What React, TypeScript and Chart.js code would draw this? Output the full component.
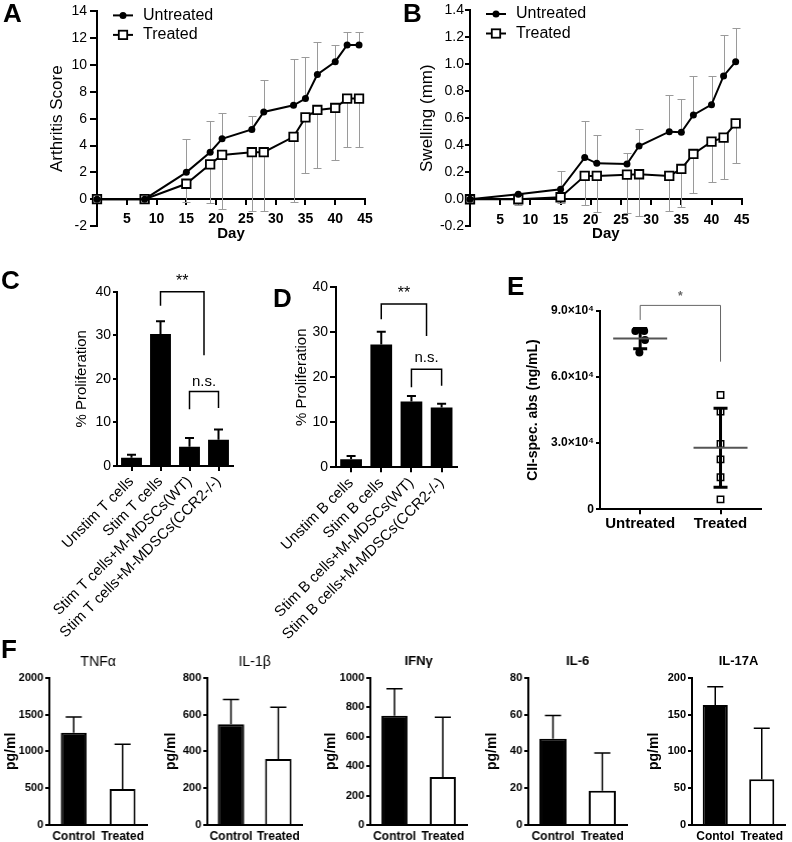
import React, { useEffect, useRef } from 'react';
import { Chart, registerables } from 'chart.js';

Chart.register(...registerables);

const FONT = '"Liberation Sans", Arial, Helvetica, sans-serif';
Chart.defaults.font.family = FONT;
Chart.defaults.color = '#000';

// ---------- DATA ----------
// Panels A & B (day of measurement)
const days = [0, 8, 15, 19, 21, 26, 28, 33, 35, 37, 40, 42, 44];
const scoreUntreated = [0, 0, 2.0, 3.5, 4.5, 5.2, 6.5, 7.0, 7.5, 9.3, 10.25, 11.5, 11.5];
const scoreUntreatedSD = [0, 0, 2.45, 2.35, 1.9, 1.0, 2.4, 3.45, 3.1, 2.4, 1.25, 1.0, 1.0];
const scoreTreated = [0, 0, 1.15, 2.6, 3.3, 3.5, 3.5, 4.65, 6.1, 6.65, 6.8, 7.5, 7.5];
const scoreTreatedSD = [0, 0, 1.35, 2.85, 4.0, 4.4, 4.4, 4.85, 4.15, 4.3, 3.85, 3.6, 3.6];

const swellUntreated = [0, 0.037, 0.074, 0.308, 0.266, 0.261, 0.394, 0.5, 0.495, 0.624, 0.7, 0.912, 1.018];
const swellUntreatedSD = [0, 0.01, 0.138, 0.27, 0.21, 0.08, 0.126, 0.27, 0.25, 0.29, 0.21, 0.3, 0.246];
const swellTreated = [0, 0, 0.015, 0.173, 0.173, 0.182, 0.185, 0.173, 0.224, 0.335, 0.426, 0.456, 0.562];
const swellTreatedSD = [0, 0.04, 0.045, 0.215, 0.265, 0.28, 0.31, 0.257, 0.28, 0.286, 0.295, 0.306, 0.296];

const seriesLabels = ['Untreated', 'Treated'];

// Panel C
const tCellGroups = ['Unstim T cells', 'Stim T cells', 'Stim T cells+M-MDSCs(WT)', 'Stim T cells+M-MDSCs(CCR2-/-)'];
const tCellProlif = [1.9, 30.3, 4.4, 6.0];
const tCellErr = [0.7, 2.9, 2.0, 2.4];

// Panel D
const bCellGroups = ['Unstim B cells', 'Stim B cells', 'Stim B cells+M-MDSCs(WT)', 'Stim B cells+M-MDSCs(CCR2-/-)'];
const bCellProlif = [1.8, 27.3, 14.6, 13.3];
const bCellErr = [0.7, 2.8, 1.25, 0.8];

// Panel E
const eGroups = ['Untreated', 'Treated'];
const eUntreated = [80800, 80800, 76700, 71100];
const eUntreatedJitter = [-0.06, 0.05, 0.06, -0.01];
const eTreated = [51800, 44300, 29600, 22600, 14500, 4500];

// Panel F
const fGroups = ['Control', 'Treated'];
const fGroupsIL17 = ['Contol', 'Treated'];
const tnfMean = [1253, 489];
const tnfSD = [213, 606];
const il1bMean = [547, 358];
const il1bSD = [135, 281];
const ifngMean = [742, 326];
const ifngSD = [183, 405];
const il6Mean = [46.9, 18.6];
const il6SD = [12.6, 20.5];
const il17aMean = [162.9, 62];
const il17aSD = [24.9, 69.2];

// ---------- HELPERS ----------
const f = (size: number, weight: string = 'normal') => ({ family: FONT, size, weight });
const cf = (size: number, weight: string = 'normal') => `${weight} ${size}px ${FONT}`;
const axisGrid = (tickLength: number, drawTicks = true) => ({
  display: true,
  drawOnChartArea: false,
  drawTicks,
  tickLength,
  color: '#000',
  lineWidth: 2,
  offset: false,
});
const axisBorder = { display: true, color: '#000', width: 2 };
const mean = (a: number[]) => a.reduce((s, v) => s + v, 0) / a.length;
const sdev = (a: number[]) => {
  const m = mean(a);
  return Math.sqrt(a.reduce((s, v) => s + (v - m) * (v - m), 0) / (a.length - 1));
};
const clean = (v: number) => (Math.abs(v) < 1e-9 ? 0 : v);

// ---------- PLUGINS ----------
const lineErrorPlugin = (upSD: number[], downSD: number[]) => ({
  id: 'lineErr',
  beforeDatasetsDraw(chart: any) {
    const { ctx } = chart;
    const xs = chart.scales.x;
    const ys = chart.scales.y;
    ctx.save();
    ctx.strokeStyle = '#9a9a9a';
    ctx.lineWidth = 1;
    const sets = [
      { ds: 0, sd: upSD, dir: 1 },
      { ds: 1, sd: downSD, dir: -1 },
    ];
    for (const s of sets) {
      const data = chart.data.datasets[s.ds].data as { x: number; y: number }[];
      data.forEach((p, i) => {
        const e = s.sd[i];
        if (!e) return;
        const px = Math.round(xs.getPixelForValue(p.x)) + 0.5;
        const y0 = ys.getPixelForValue(p.y);
        const y1 = Math.round(ys.getPixelForValue(p.y + s.dir * e)) + 0.5;
        ctx.beginPath();
        ctx.moveTo(px, y0);
        ctx.lineTo(px, y1);
        ctx.moveTo(px - 4, y1);
        ctx.lineTo(px + 4, y1);
        ctx.stroke();
      });
    }
    ctx.restore();
  },
});

const lineLegendPlugin = () => ({
  id: 'lineLegend',
  afterDraw(chart: any) {
    const { ctx, chartArea } = chart;
    const x0 = chartArea.left + 16;
    const rows = [
      { label: chart.data.datasets[0].label, style: 'circle', y: chartArea.top + 4 },
      { label: chart.data.datasets[1].label, style: 'rect', y: chartArea.top + 23.5 },
    ];
    ctx.save();
    for (const r of rows) {
      ctx.strokeStyle = '#000';
      ctx.lineWidth = 2;
      ctx.beginPath();
      ctx.moveTo(x0, r.y);
      ctx.lineTo(x0 + 20, r.y);
      ctx.stroke();
      const cx = x0 + 10;
      if (r.style === 'circle') {
        ctx.fillStyle = '#000';
        ctx.beginPath();
        ctx.arc(cx, r.y, 3.5, 0, Math.PI * 2);
        ctx.fill();
      } else {
        ctx.fillStyle = '#fff';
        ctx.fillRect(cx - 4.2, r.y - 4.2, 8.4, 8.4);
        ctx.lineWidth = 1.8;
        ctx.strokeRect(cx - 4.2, r.y - 4.2, 8.4, 8.4);
      }
      ctx.fillStyle = '#000';
      ctx.font = cf(16);
      ctx.textAlign = 'left';
      ctx.textBaseline = 'middle';
      ctx.fillText(r.label, x0 + 30, r.y);
    }
    ctx.restore();
  },
});

const barErrorPlugin = (errs: number[], capHalf: number, lw: number) => ({
  id: 'barErr',
  afterDatasetsDraw(chart: any) {
    const meta = chart.getDatasetMeta(0);
    const ys = chart.scales.y;
    const ctx = chart.ctx;
    const vals = chart.data.datasets[0].data as number[];
    ctx.save();
    ctx.strokeStyle = '#000';
    ctx.lineWidth = lw;
    meta.data.forEach((el: any, i: number) => {
      const e = errs[i];
      if (!e) return;
      const top = ys.getPixelForValue(vals[i] + e);
      ctx.beginPath();
      ctx.moveTo(el.x, el.y);
      ctx.lineTo(el.x, top);
      ctx.moveTo(el.x - capHalf, top);
      ctx.lineTo(el.x + capHalf, top);
      ctx.stroke();
    });
    ctx.restore();
  },
});

type Bracket = {
  x1: number; x2: number; y: number; leg1: number; leg2: number;
  label: string; labelY: number; font: string; color: string; lineWidth: number;
};
const bracketPlugin = (brackets: Bracket[]) => ({
  id: 'brackets',
  afterDraw(chart: any) {
    const { ctx } = chart;
    const xs = chart.scales.x;
    const ys = chart.scales.y;
    ctx.save();
    for (const b of brackets) {
      const X1 = xs.getPixelForValue(b.x1);
      const X2 = xs.getPixelForValue(b.x2);
      const Y = ys.getPixelForValue(b.y);
      ctx.strokeStyle = b.color;
      ctx.lineWidth = b.lineWidth;
      ctx.beginPath();
      ctx.moveTo(X1, ys.getPixelForValue(b.leg1));
      ctx.lineTo(X1, Y);
      ctx.lineTo(X2, Y);
      ctx.lineTo(X2, ys.getPixelForValue(b.leg2));
      ctx.stroke();
      ctx.fillStyle = b.color;
      ctx.font = b.font;
      ctx.textAlign = 'center';
      ctx.textBaseline = 'middle';
      ctx.fillText(b.label, (X1 + X2) / 2, ys.getPixelForValue(b.labelY));
    }
    ctx.restore();
  },
});

const meanSdPlugin = (groups: { x: number; values: number[] }[]) => ({
  id: 'meanSd',
  afterDatasetsDraw(chart: any) {
    const { ctx } = chart;
    const xs = chart.scales.x;
    const ys = chart.scales.y;
    ctx.save();
    for (const g of groups) {
      const m = mean(g.values);
      const s = sdev(g.values);
      const X = xs.getPixelForValue(g.x);
      const Ym = ys.getPixelForValue(m);
      const Yt = ys.getPixelForValue(m + s);
      const Yb = ys.getPixelForValue(m - s);
      ctx.strokeStyle = '#000';
      ctx.lineWidth = 3;
      ctx.beginPath();
      ctx.moveTo(X, Yt);
      ctx.lineTo(X, Yb);
      ctx.moveTo(X - 7, Yt);
      ctx.lineTo(X + 7, Yt);
      ctx.moveTo(X - 7, Yb);
      ctx.lineTo(X + 7, Yb);
      ctx.stroke();
      ctx.strokeStyle = '#555';
      ctx.lineWidth = 2;
      ctx.beginPath();
      ctx.moveTo(X - 27, Ym);
      ctx.lineTo(X + 27, Ym);
      ctx.stroke();
    }
    ctx.restore();
  },
});

const panelTitlePlugin = (text: string, weight: string) => ({
  id: 'panelTitle',
  afterDraw(chart: any) {
    const { ctx, chartArea } = chart;
    ctx.save();
    ctx.fillStyle = '#000';
    ctx.font = cf(weight === 'bold' ? 13 : 14, weight);
    ctx.textAlign = 'center';
    ctx.textBaseline = 'middle';
    ctx.fillText(text, (chartArea.left + chartArea.right) / 2, chartArea.top - 16);
    ctx.restore();
  },
});

const baseOptions = (padding: any) => ({
  animation: false,
  responsive: false,
  events: [],
  layout: { padding },
  plugins: { legend: { display: false }, tooltip: { enabled: false }, title: { display: false } },
});

// ---------- CHART MAKERS ----------
type LineParams = {
  untreated: number[]; untreatedSD: number[]; treated: number[]; treatedSD: number[];
  yMin: number; yMax: number; yStep: number; yTitle: string; yTitlePad: number;
  yWidth: number; yTickLen: number; yTickPad: number; yFmt: (v: number) => string;
  padTop: number; padRight: number; padBottom: number; xHeight: number;
};
const makeLineChart = (p: LineParams) => () => ({
  type: 'line',
  data: {
    datasets: [
      {
        label: seriesLabels[0],
        data: days.map((d, i) => ({ x: d, y: p.untreated[i] })),
        borderColor: '#000', borderWidth: 2, tension: 0,
        pointStyle: 'circle', pointRadius: 3.5,
        pointBackgroundColor: '#000', pointBorderColor: '#000', pointBorderWidth: 0,
        clip: false,
      },
      {
        label: seriesLabels[1],
        data: days.map((d, i) => ({ x: d, y: p.treated[i] })),
        borderColor: '#000', borderWidth: 2, tension: 0,
        pointStyle: 'rect', pointRadius: 6,
        pointBackgroundColor: '#fff', pointBorderColor: '#000', pointBorderWidth: 1.8,
        clip: false,
      },
    ],
  },
  options: {
    ...baseOptions({ left: 0, top: p.padTop, right: p.padRight, bottom: p.padBottom }),
    scales: {
      x: {
        type: 'linear', min: 0, max: 45, position: { y: 0 },
        ticks: {
          stepSize: 5, autoSkip: false, maxRotation: 0, padding: 7, font: f(14, 'bold'), color: '#000',
          callback: (v: number) => (v === 0 ? '' : String(v)),
        },
        grid: axisGrid(5), border: axisBorder,
        title: { display: true, text: 'Day', font: f(15, 'bold'), color: '#000', padding: { top: 0, bottom: 0 } },
        afterFit: (s: any) => { s.height = p.xHeight; },
      },
      y: {
        type: 'linear', min: p.yMin, max: p.yMax,
        ticks: { stepSize: p.yStep, font: f(14), color: '#000', padding: p.yTickPad, callback: (v: number) => p.yFmt(clean(v)) },
        grid: axisGrid(p.yTickLen), border: axisBorder,
        title: { display: true, text: p.yTitle, font: f(17), color: '#000', padding: { top: p.yTitlePad, bottom: 0 } },
        afterFit: (s: any) => { s.width = p.yWidth; },
      },
    },
  },
  plugins: [lineErrorPlugin(p.untreatedSD, p.treatedSD), lineLegendPlugin()],
});

type ProlifParams = {
  labels: string[]; values: number[]; errs: number[];
  yWidth: number; yTitlePad: number; yTickLen: number; yTickPad: number;
  padTop: number; padRight: number; xHeight: number; brackets: Bracket[];
};
const makeProlifChart = (p: ProlifParams) => () => ({
  type: 'bar',
  data: {
    labels: p.labels,
    datasets: [{ data: p.values, backgroundColor: '#000', borderWidth: 0, barPercentage: 0.72, categoryPercentage: 1 }],
  },
  options: {
    ...baseOptions({ left: 0, top: p.padTop, right: p.padRight, bottom: 0 }),
    scales: {
      x: {
        ticks: { font: f(15), color: '#000', minRotation: 45, maxRotation: 45, autoSkip: false, padding: 2 },
        grid: axisGrid(5), border: axisBorder,
        afterFit: (s: any) => { s.height = p.xHeight; },
      },
      y: {
        min: 0, max: 40,
        ticks: { stepSize: 10, font: f(14), color: '#000', padding: p.yTickPad, callback: (v: number) => String(clean(v)) },
        grid: axisGrid(p.yTickLen), border: axisBorder,
        title: { display: true, text: '% Proliferation', font: f(15), color: '#000', padding: { top: p.yTitlePad, bottom: 0 } },
        afterFit: (s: any) => { s.width = p.yWidth; },
      },
    },
  },
  plugins: [barErrorPlugin(p.errs, 4.5, 2), bracketPlugin(p.brackets)],
});

const makeEChart = () => ({
  type: 'scatter',
  data: {
    datasets: [
      {
        label: eGroups[0],
        data: eUntreated.map((v, i) => ({ x: 0.5 + eUntreatedJitter[i], y: v })),
        pointStyle: 'circle', pointRadius: 4,
        pointBackgroundColor: '#000', pointBorderColor: '#000', pointBorderWidth: 0, clip: false,
      },
      {
        label: eGroups[1],
        data: eTreated.map((v) => ({ x: 1.5, y: v })),
        pointStyle: 'rect', pointRadius: 4.5,
        pointBackgroundColor: '#fff', pointBorderColor: '#000', pointBorderWidth: 1.5, clip: false,
      },
    ],
  },
  options: {
    ...baseOptions({ left: 0, top: 60.7, right: 31.3, bottom: 0 }),
    scales: {
      x: {
        type: 'linear', min: 0, max: 2,
        afterBuildTicks: (s: any) => { s.ticks = eGroups.map((_, i) => ({ value: i + 0.5 })); },
        ticks: {
          autoSkip: false, maxRotation: 0, font: f(15, 'bold'), color: '#000', padding: 1,
          callback: (_v: number, i: number) => eGroups[i],
        },
        grid: axisGrid(5), border: axisBorder,
        afterFit: (s: any) => { s.height = 40.7; },
      },
      y: {
        min: 0, max: 90000,
        ticks: {
          stepSize: 30000, font: f(12, 'bold'), color: '#000', padding: 2,
          callback: (v: number) => (clean(v) === 0 ? '0' : `${(v / 10000).toFixed(1)}×10⁴`),
        },
        grid: axisGrid(4), border: axisBorder,
        title: { display: true, text: 'CII-spec. abs (ng/mL)', font: f(14, 'bold'), color: '#000', padding: { top: 14.6, bottom: 0 } },
        afterFit: (s: any) => { s.width = 90; },
      },
    },
  },
  plugins: [
    meanSdPlugin([{ x: 0.5, values: eUntreated }, { x: 1.5, values: eTreated }]),
    bracketPlugin([
      { x1: 0.5, x2: 1.5, y: 92400, leg1: 85800, leg2: 66900, label: '*', labelY: 96200, font: cf(12, 'bold'), color: '#666', lineWidth: 1 },
    ]),
  ],
});

type CytoParams = {
  title: string; titleWeight: string; labels: string[]; values: number[]; errs: number[];
  yMax: number; yStep: number; barPct: number; yTitlePad: number; padRight: number;
};
const makeCytoChart = (p: CytoParams) => () => ({
  type: 'bar',
  data: {
    labels: p.labels,
    datasets: [{
      data: p.values, backgroundColor: ['#000', '#fff'], borderColor: '#000', borderWidth: 2,
      barPercentage: p.barPct, categoryPercentage: 1,
    }],
  },
  options: {
    ...baseOptions({ left: 0, top: 37.7, right: p.padRight, bottom: 0 }),
    scales: {
      x: {
        ticks: { font: f(12, 'bold'), color: '#000', maxRotation: 0, autoSkip: false, padding: 4.5 },
        grid: axisGrid(0, false), border: axisBorder,
        afterFit: (s: any) => { s.height = 17; },
      },
      y: {
        min: 0, max: p.yMax,
        ticks: { stepSize: p.yStep, font: f(11, 'bold'), color: '#000', padding: 2, callback: (v: number) => String(clean(v)) },
        grid: axisGrid(4), border: axisBorder,
        title: { display: true, text: 'pg/ml', font: f(14, 'bold'), color: '#000', padding: { top: p.yTitlePad, bottom: 0 } },
        afterFit: (s: any) => { s.width = 50; },
      },
    },
  },
  plugins: [barErrorPlugin(p.errs, 8, 1.5), panelTitlePlugin(p.title, p.titleWeight)],
});

// ---------- COMPONENTS ----------
type BoxProps = { left: number; top: number; width: number; height: number; make: () => any };
function ChartBox({ left, top, width, height, make }: BoxProps) {
  const ref = useRef<HTMLCanvasElement | null>(null);
  useEffect(() => {
    if (!ref.current) return;
    const chart = new Chart(ref.current, make());
    return () => chart.destroy();
  }, [make]);
  return (
    <canvas
      ref={ref}
      width={width}
      height={height}
      style={{ position: 'absolute', left, top, width, height, display: 'block' }}
    />
  );
}

const panelA = makeLineChart({
  untreated: scoreUntreated, untreatedSD: scoreUntreatedSD, treated: scoreTreated, treatedSD: scoreTreatedSD,
  yMin: -2, yMax: 14, yStep: 2, yTitle: 'Arthritis Score', yTitlePad: 46.8,
  yWidth: 97, yTickLen: 7, yTickPad: 3, yFmt: (v) => String(v),
  padTop: 8, padRight: 25, padBottom: 19, xHeight: 43.25,
});
const panelB = makeLineChart({
  untreated: swellUntreated, untreatedSD: swellUntreatedSD, treated: swellTreated, treatedSD: swellTreatedSD,
  yMin: -0.2, yMax: 1.4, yStep: 0.2, yTitle: 'Swelling (mm)', yTitlePad: 26.8,
  yWidth: 80, yTickLen: 5, yTickPad: 1, yFmt: (v) => v.toFixed(1),
  padTop: 10, padRight: 50.3, padBottom: 18.7, xHeight: 43.7,
});
const panelC = makeProlifChart({
  labels: tCellGroups, values: tCellProlif, errs: tCellErr,
  yWidth: 117, yTitlePad: 73, yTickLen: 4, yTickPad: 2,
  padTop: 41.7, padRight: 27, xHeight: 184,
  brackets: [
    { x1: 1, x2: 2.5, y: 40, leg1: 36.8, leg2: 25.4, label: '**', labelY: 42.3, font: cf(16), color: '#000', lineWidth: 1.5 },
    { x1: 2, x2: 3, y: 17.1, leg1: 13.0, leg2: 13.3, label: 'n.s.', labelY: 19.2, font: cf(15), color: '#000', lineWidth: 1.5 },
  ],
});
const panelD = makeProlifChart({
  labels: bCellGroups, values: bCellProlif, errs: bCellErr,
  yWidth: 76, yTitlePad: 32.7, yTickLen: 6, yTickPad: 2,
  padTop: 37.3, padRight: 53.3, xHeight: 182.7,
  brackets: [
    { x1: 1, x2: 2.5, y: 36.3, leg1: 32.9, leg2: 29.2, label: '**', labelY: 38.5, font: cf(16), color: '#000', lineWidth: 1.5 },
    { x1: 2, x2: 3, y: 21.8, leg1: 17.8, leg2: 18.1, label: 'n.s.', labelY: 24.4, font: cf(15), color: '#000', lineWidth: 1.5 },
  ],
});

const fPanels = [
  { areaLeft: 49, areaRight: 146.7, make: makeCytoChart({ title: 'TNFα', titleWeight: 'normal', labels: fGroups, values: tnfMean, errs: tnfSD, yMax: 2000, yStep: 500, barPct: 0.53, yTitlePad: 3.4, padRight: 10 }) },
  { areaLeft: 207.3, areaRight: 301.7, make: makeCytoChart({ title: 'IL-1β', titleWeight: 'normal', labels: fGroups, values: il1bMean, errs: il1bSD, yMax: 800, yStep: 200, barPct: 0.56, yTitlePad: 5.7, padRight: 10 }) },
  { areaLeft: 370, areaRight: 466.7, make: makeCytoChart({ title: 'IFNγ', titleWeight: 'bold', labels: fGroups, values: ifngMean, errs: ifngSD, yMax: 1000, yStep: 200, barPct: 0.54, yTitlePad: 3.1, padRight: 10 }) },
  { areaLeft: 528.3, areaRight: 626.7, make: makeCytoChart({ title: 'IL-6', titleWeight: 'bold', labels: fGroups, values: il6Mean, errs: il6SD, yMax: 80, yStep: 20, barPct: 0.55, yTitlePad: 5.8, padRight: 10 }) },
  { areaLeft: 691.7, areaRight: 785, make: makeCytoChart({ title: 'IL-17A', titleWeight: 'bold', labels: fGroupsIL17, values: il17aMean, errs: il17aSD, yMax: 200, yStep: 50, barPct: 0.54, yTitlePad: 3.9, padRight: 6 }) },
];

const letterStyle = (left: number, top: number): React.CSSProperties => ({
  position: 'absolute', left, top, font: `bold 26px ${FONT}`, lineHeight: '26px', color: '#000', margin: 0,
});

export default function App() {
  return (
    <div style={{ position: 'absolute', left: 0, top: 0, width: 792, height: 842, background: '#fff', overflow: 'hidden' }}>
      <ChartBox left={0} top={0} width={390} height={245} make={panelA} />
      <ChartBox left={390} top={0} width={402} height={245} make={panelB} />
      <ChartBox left={0} top={250} width={260} height={400} make={panelC} />
      <ChartBox left={260} top={250} width={250} height={400} make={panelD} />
      <ChartBox left={510} top={250} width={282} height={300} make={makeEChart} />
      {fPanels.map((p, i) => {
        const left = p.areaLeft - 50;
        const width = Math.min(792 - left, p.areaRight - left + (i === 4 ? 6 : 10));
        return <ChartBox key={i} left={left} top={640} width={width} height={202} make={p.make} />;
      })}
      <div style={letterStyle(3, 0)}>A</div>
      <div style={letterStyle(403, 0)}>B</div>
      <div style={letterStyle(1, 267)}>C</div>
      <div style={letterStyle(273, 285)}>D</div>
      <div style={letterStyle(507, 273)}>E</div>
      <div style={letterStyle(1, 636)}>F</div>
    </div>
  );
}
